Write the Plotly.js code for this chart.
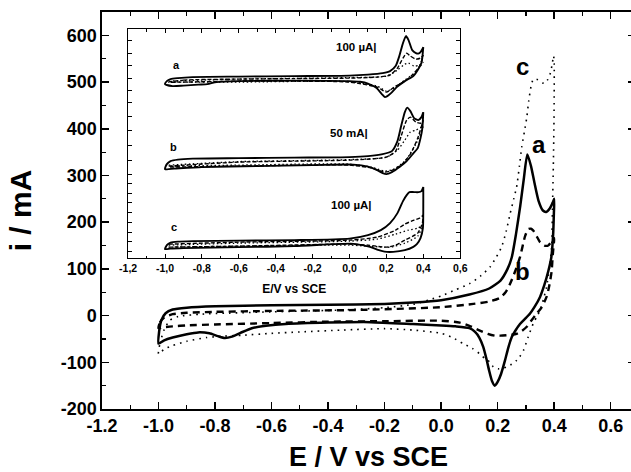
<!DOCTYPE html>
<html>
<head>
<meta charset="utf-8">
<script src="https://cdn.plot.ly/plotly-3.0.1.min.js"></script>
<style>
html,body{margin:0;padding:0;overflow:hidden;background:#fff;width:631px;height:472px;}
#wrap{width:631px;height:472px;overflow:hidden;position:relative;}
#chart{width:640px;height:472px;position:absolute;left:0;top:0;}
</style>
</head>
<body>
<div id="wrap"><div id="chart"></div></div>
<script>
// ---------- main CV data (E / V vs SCE, i / mA) ----------
const E_a = [-1.0,-0.998,-0.99,-0.975,-0.95,-0.9,-0.8,-0.6,-0.4,-0.2,-0.1,0.0,0.1,0.17,0.21,0.235,0.25,0.265,0.28,0.292,0.305,0.318,0.33,0.345,0.36,0.372,0.385,0.395,0.4,
  0.399,0.396,0.39,0.38,0.365,0.35,0.33,0.314,0.295,0.279,0.262,0.25,0.237,0.226,0.212,0.2,0.19,0.18,0.17,0.16,0.149,0.135,0.12,0.1,0.05,0.0,-0.1,-0.25,-0.4,-0.55,-0.62,-0.67,-0.71,-0.74,-0.765,-0.79,-0.82,-0.86,-0.9,-0.95,-0.98,-1.0];
const I_a = [-60,-35,-10,5,13,17,20,22,23,25,28,33,45,58,75,100,125,175,235,290,345,320,285,245,225,222,230,242,250,
  220,170,125,97,65,40,18,4,-8,-18,-33,-46,-70,-96,-125,-142,-150,-140,-118,-92,-67,-47,-35,-27,-23,-21,-18,-14,-15,-18,-22,-27,-37,-45,-48,-44,-38,-36,-40,-47,-53,-60];

const E_b = [-1.0,-0.995,-0.98,-0.95,-0.9,-0.8,-0.6,-0.3,0.0,0.114,0.17,0.208,0.228,0.244,0.262,0.279,0.297,0.308,0.318,0.326,0.338,0.35,0.365,0.379,0.39,0.4,
  0.398,0.395,0.391,0.383,0.373,0.355,0.338,0.32,0.303,0.285,0.267,0.25,0.232,0.21,0.19,0.165,0.137,0.1,0.066,0.0,-0.2,-0.4,-0.6,-0.8,-0.9,-0.95,-0.98,-1.0];
const I_b = [-27,-15,-4,3,6,8,10,12,18,25,30,38,50,68,95,125,170,185,186,182,170,157,150,150,158,166,
  150,130,95,65,40,17,4,-10,-24,-33,-39,-41,-42,-43,-43,-39,-32,-22,-15,-11,-12,-13,-16,-19,-21,-23,-25,-27];

const E_c = [-1.0,-0.995,-0.98,-0.96,-0.93,-0.85,-0.6,-0.35,-0.2,-0.1,-0.04,0.0,0.05,0.1,0.14,0.173,0.195,0.214,0.23,0.244,0.257,0.267,0.277,0.285,0.295,0.303,0.31,0.318,0.326,0.338,0.35,0.36,0.367,0.377,0.385,0.392,0.398,
  0.4,0.4,0.399,0.397,0.394,0.391,0.385,0.373,0.362,0.35,0.338,0.326,0.308,0.291,0.278,0.267,0.25,0.232,0.215,0.202,0.185,0.173,0.155,0.137,0.11,0.078,0.04,0.0,-0.1,-0.2,-0.35,-0.5,-0.6,-0.7,-0.77,-0.83,-0.9,-0.95,-0.98,-1.0];
const I_c = [-82,-60,-30,-10,-2,3,8,12,17,24,34,42,55,68,85,104,125,147,180,218,250,275,320,360,395,424,460,490,506,506,502,498,497,505,516,535,556,
  540,470,400,320,230,147,111,61,35,11,-3,-17,-46,-75,-88,-96,-104,-110,-113,-114,-110,-100,-92,-82,-70,-60,-47,-38,-31,-28,-31,-35,-38,-42,-44,-47,-55,-64,-72,-82];

// ---------- inset data (E/V vs SCE, stacked arbitrary current units) ----------
const inA_E_solid = [-1.0,-0.99,-0.97,-0.93,-0.85,-0.6,-0.3,0.0,0.1,0.18,0.22,0.25,0.27,0.29,0.306,0.32,0.34,0.36,0.373,0.385,0.4,
  0.4,0.39,0.37,0.346,0.3,0.256,0.225,0.205,0.192,0.175,0.147,0.1,0.057,0.0,-0.3,-0.6,-0.72,-0.77,-0.82,-0.9,-0.96,-1.0];
const inA_Y_solid = [174,177,179,180,181,181.5,182,182.5,183.5,185,187,192,202,215,222,218,208,205,204.5,206,211,
  211,195,188,182,177,171,165,162,161,164,170,174.5,176.3,177,177.5,177,176,174,173.5,172.5,172,174];
const inA_E_dash = [-0.98,-0.9,-0.6,-0.3,0.0,0.15,0.22,0.26,0.29,0.31,0.33,0.36,0.385,0.4,0.4,0.38,0.34,0.3,0.25,0.2,0.15,0.0,-0.3,-0.6,-0.9,-0.98];
const inA_Y_dash = [176,178,179,179.5,180,181,183,190,200,205,202,199,200,203,203,192,183,177,172,166,171,176,177,177,176,176];
const inA_E_dot = [-0.98,-0.6,0.0,0.2,0.26,0.3,0.32,0.35,0.38,0.4,0.4,0.36,0.3,0.24,0.2,0.15,0.0,-0.6,-0.98];
const inA_Y_dot = [177,179,180.5,182,188,194,195,192,193,196,196,186,178,170,167,172,176.5,176,176];

const inB_E_solid = [-1.0,-0.99,-0.97,-0.93,-0.85,-0.6,-0.3,0.0,0.1,0.18,0.23,0.26,0.28,0.3,0.313,0.33,0.35,0.373,0.39,0.4,
  0.4,0.395,0.385,0.37,0.346,0.31,0.273,0.23,0.2,0.18,0.15,0.1,0.021,-0.2,-0.5,-0.8,-0.95,-1.0];
const inB_Y_solid = [89,94,97,98.5,99.5,100,100.5,101,102,104,107,117,132,146,150.5,147,140,138,141,146,
  146,130,120,110,104.7,97,91.3,86,84,85,88,91.5,93.5,93,92,91,89.5,89];
const inB_E_dash = [-0.98,-0.6,0.0,0.2,0.25,0.28,0.31,0.33,0.36,0.39,0.4,0.4,0.37,0.33,0.28,0.22,0.19,0.12,0.0,-0.6,-0.98];
const inB_Y_dash = [92,96,98,101,107,122,138,141,136,135,138,138,120,104,93,87,86,90,93,92,91];
const inB_E_dot = [-0.98,-0.6,0.0,0.2,0.26,0.3,0.33,0.36,0.4,0.4,0.36,0.3,0.24,0.19,0.12,0.0,-0.6,-0.98];
const inB_Y_dot = [93,96.5,98.5,101,108,118,126,128,132,132,114,97,89,87,91,94,93,92];

const inC_E_solid = [-1.0,-0.99,-0.97,-0.93,-0.85,-0.6,-0.3,0.0,0.1,0.17,0.22,0.26,0.29,0.31,0.325,0.35,0.375,0.39,0.4,
  0.4,0.4,0.398,0.385,0.365,0.346,0.3,0.237,0.19,0.15,0.111,0.05,0.004,-0.3,-0.6,-0.9,-0.97,-1.0];
const inC_Y_solid = [9,13,15.5,16.5,17,17.5,18,19.5,23,28,35,45,57,63,66,66,66,67,71,
  71,50,30,20,14,11.3,8,6.3,6.5,8.5,11.3,13.5,14.5,12,11,10,9.5,9];
const inC_E_dash = [-0.98,-0.6,0.0,0.15,0.25,0.3,0.35,0.38,0.4,0.4,0.395,0.37,0.3,0.25,0.2,0.1,0.0,-0.6,-0.98];
const inC_Y_dash = [14,16,18,21,28,34,38,40,43,43,35,25,18,13,11,13,14,12,11];
const inC_E_dot = [-0.98,-0.6,0.0,0.15,0.25,0.32,0.37,0.4,0.4,0.37,0.3,0.22,0.1,0.0,-0.6,-0.98];
const inC_Y_dot = [13,15,17,19,24,28,30,33,33,22,15,11,12,13,12,11];

// ---------- ticks / labels ----------
const mainXTicks = [-1.2,-1.0,-0.8,-0.6,-0.4,-0.2,0.0,0.2,0.4,0.6];
const mainXText = ['-1.2','-1.0','-0.8','-0.6','-0.4','-0.2','0.0','0.2','0.4','0.6'];
const mainYTicks = [-200,-100,0,100,200,300,400,500,600];
const mainYText = ['-200','-100','0','100','200','300','400','500','600'];
const insetXTicks = [-1.2,-1.0,-0.8,-0.6,-0.4,-0.2,0.0,0.2,0.4,0.6];
const insetXText = ['-1,2','-1,0','-0,8','-0,6','-0,4','-0,2','0,0','0,2','0,4','0,6'];
const insetYTicks = [7,16.3,26,35.3,45.3,55.3,64.7,74.7,83.7,98,112.3,128,141.3,155.3,167.7,180,192.3,204.7,217.3];

const F = 'Liberation Sans, Arial, sans-serif';
const K = '#000';

function tr(x, y, w, dash, xa, ya) {
  return {x: x, y: y, type: 'scatter', mode: 'lines', xaxis: xa, yaxis: ya,
    line: {color: K, width: w, dash: dash, shape: 'spline', smoothing: 0.6},
    hoverinfo: 'skip', showlegend: false};
}

const data = [
  tr(E_c, I_c, 1.6, '1.6px,5px', 'x', 'y'),
  tr(E_b, I_b, 2.4, '7px,5px', 'x', 'y'),
  tr(E_a, I_a, 2.5, 'solid', 'x', 'y'),
  tr(inA_E_dot, inA_Y_dot, 1.3, '1.5px,2.5px', 'x2', 'y2'),
  tr(inA_E_dash, inA_Y_dash, 1.4, '4px,2px', 'x2', 'y2'),
  tr(inA_E_solid, inA_Y_solid, 1.9, 'solid', 'x2', 'y2'),
  tr(inB_E_dot, inB_Y_dot, 1.3, '1.5px,2.5px', 'x2', 'y2'),
  tr(inB_E_dash, inB_Y_dash, 1.4, '4px,2px', 'x2', 'y2'),
  tr(inB_E_solid, inB_Y_solid, 1.9, 'solid', 'x2', 'y2'),
  tr(inC_E_dot, inC_Y_dot, 1.3, '1.5px,2.5px', 'x2', 'y2'),
  tr(inC_E_dash, inC_Y_dash, 1.4, '4px,2px', 'x2', 'y2'),
  tr(inC_E_solid, inC_Y_solid, 1.9, 'solid', 'x2', 'y2')
];

const tickFontMain = {family: F, size: 18, color: K, weight: 700};
const tickFontInset = {family: F, size: 10.5, color: K, weight: 700};
const lab = (t, s) => ({family: F, size: s, color: K, weight: 700});

const layout = {
  width: 640, height: 472,
  margin: {l: 102, r: 5, t: 12, b: 63},
  paper_bgcolor: '#fff', plot_bgcolor: '#fff',
  showlegend: false,
  xaxis: {
    domain: [0, 1], range: [-1.2, 0.686], showgrid: false, zeroline: false,
    showline: true, linecolor: K, linewidth: 1.6, mirror: 'allticks',
    ticks: 'inside', ticklen: 7, tickwidth: 1.5, tickcolor: K,
    tickvals: mainXTicks, ticktext: mainXText, tickfont: tickFontMain,
    minor: {dtick: 0.1, tick0: 0, ticks: 'inside', ticklen: 4, tickwidth: 1.2, tickcolor: K},
    title: {text: 'E / V vs SCE', font: lab(0, 27), standoff: 18}
  },
  yaxis: {
    domain: [0, 1], range: [-200, 650], showgrid: false, zeroline: false,
    showline: true, linecolor: K, linewidth: 1.6, mirror: 'allticks',
    ticks: 'inside', ticklen: 7, tickwidth: 1.5, tickcolor: K,
    tickvals: mainYTicks, ticktext: mainYText, tickfont: tickFontMain,
    minor: {dtick: 50, tick0: 0, ticks: 'inside', ticklen: 4, tickwidth: 1.2, tickcolor: K},
    title: {text: 'i / mA', font: lab(0, 30), standoff: 20}
  },
  xaxis2: {
    domain: [0.049, 0.672], anchor: 'y2', range: [-1.2, 0.6], showgrid: false, zeroline: false,
    showline: true, linecolor: K, linewidth: 1.3, mirror: 'allticks',
    ticks: 'inside', ticklen: 4, tickwidth: 1, tickcolor: K,
    tickvals: insetXTicks, ticktext: insetXText, tickfont: tickFontInset,
    minor: {dtick: 0.1, tick0: 0, ticks: 'inside', ticklen: 2.5, tickwidth: 1, tickcolor: K},
    title: {text: 'E/V vs SCE', font: lab(0, 12), standoff: 11}
  },
  yaxis2: {
    domain: [0.380, 0.957], anchor: 'x2', range: [0, 229], showgrid: false, zeroline: false,
    showline: true, linecolor: K, linewidth: 1.3, mirror: 'allticks',
    ticks: 'inside', ticklen: 4, tickwidth: 1, tickcolor: K,
    tickvals: insetYTicks, showticklabels: false
  },
  annotations: [
    {xref: 'x', yref: 'y', x: 0.289, y: 534, text: 'c', showarrow: false, font: lab(0, 24)},
    {xref: 'x', yref: 'y', x: 0.346, y: 367, text: 'a', showarrow: false, font: lab(0, 24)},
    {xref: 'x', yref: 'y', x: 0.288, y: 95, text: 'b', showarrow: false, font: lab(0, 24)},
    {xref: 'x2', yref: 'y2', x: -0.937, y: 193, text: 'a', showarrow: false, font: lab(0, 11)},
    {xref: 'x2', yref: 'y2', x: -0.955, y: 111, text: 'b', showarrow: false, font: lab(0, 11)},
    {xref: 'x2', yref: 'y2', x: -0.951, y: 31, text: 'c', showarrow: false, font: lab(0, 11)},
    {xref: 'x2', yref: 'y2', x: 0.04, y: 211, text: '100 µA|', showarrow: false, font: lab(0, 11.5)},
    {xref: 'x2', yref: 'y2', x: 0.0, y: 125, text: '50 mA|', showarrow: false, font: lab(0, 11.5)},
    {xref: 'x2', yref: 'y2', x: 0.01, y: 53, text: '100 µA|', showarrow: false, font: lab(0, 11.5)}
  ]
};

Plotly.newPlot('chart', data, layout, {staticPlot: true, displayModeBar: false});
</script>
</body>
</html>
